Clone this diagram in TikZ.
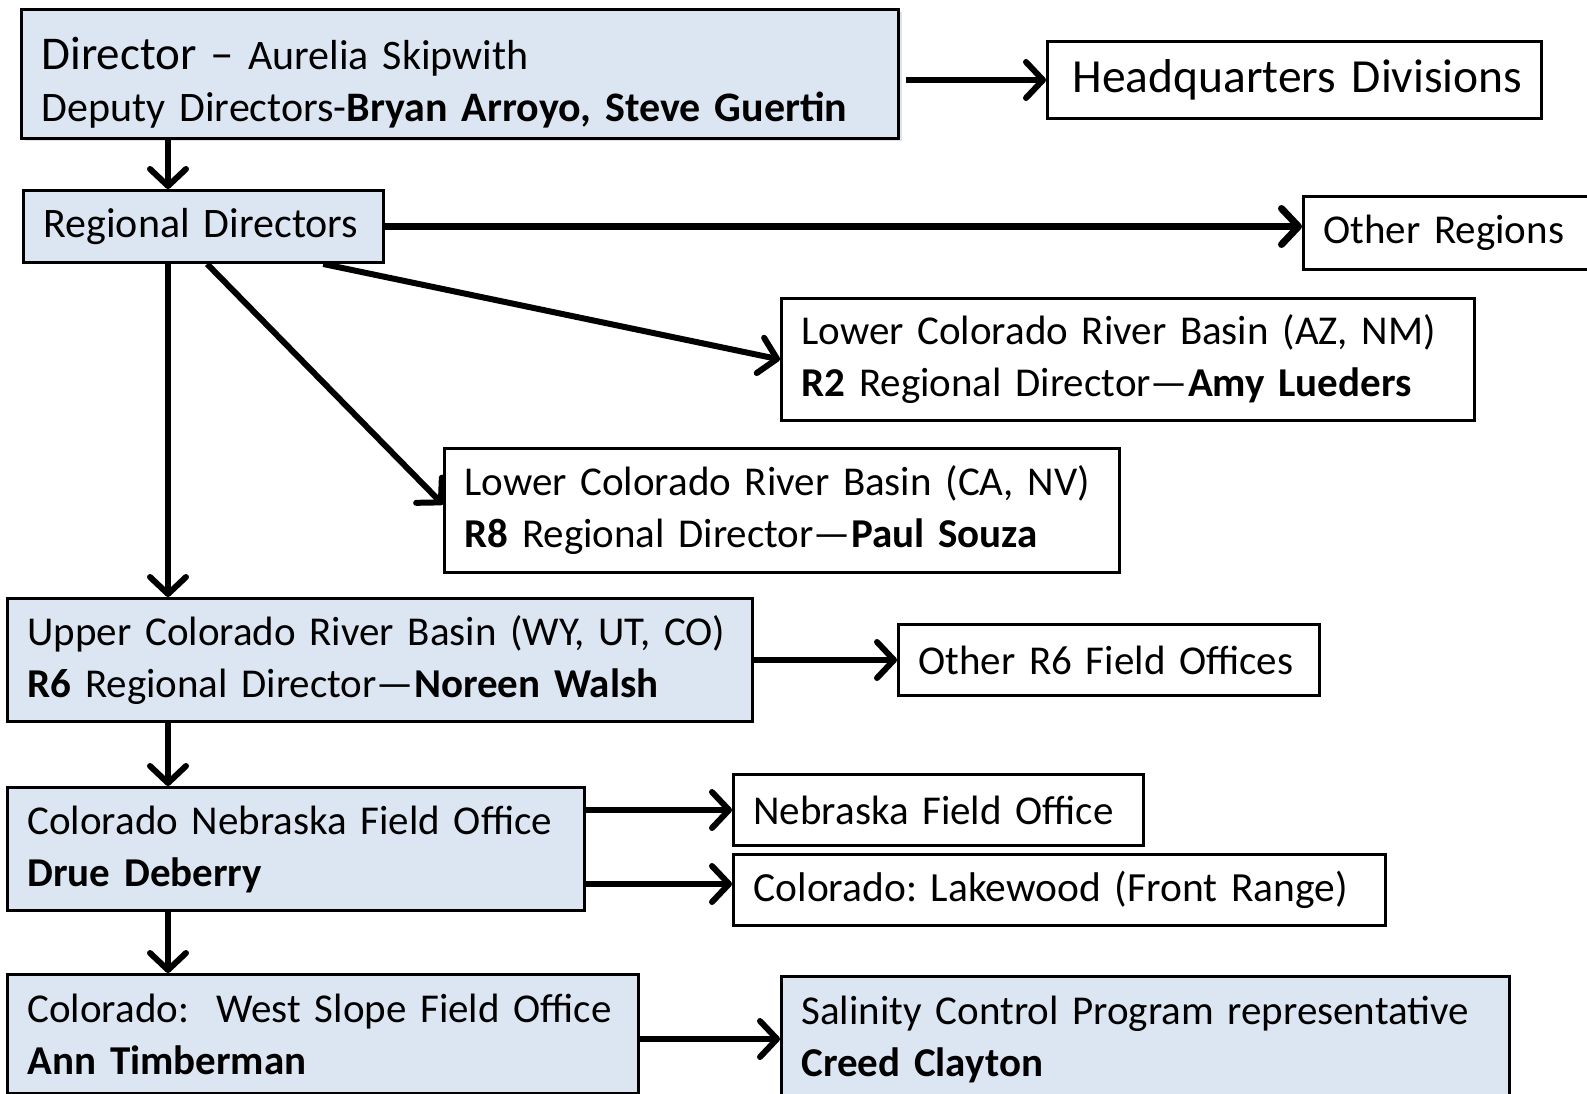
\documentclass[tikz,border=0pt]{standalone}
\usepackage{fontspec}
\setmainfont{Carlito}
\usetikzlibrary{arrows.meta,calc,shadows}
\definecolor{boxblue}{HTML}{DCE6F2}
\frenchspacing
\tikzset{
 box/.style={draw=black, line width=3pt, rectangle, inner xsep=20pt, inner ysep=0pt, align=left, anchor=north west, font=\fontsize{41}{52}\selectfont},
 bluebox/.style={box, fill=boxblue},
 whitebox/.style={box, fill=white},
 arr/.style={line width=6pt, -{Straight Barb[length=17pt,width=36pt,round]}},
}
\begin{document}
\begin{tikzpicture}[x=1pt,y=-1pt]
\useasboundingbox (0,0) rectangle (1587,1094);
\node[bluebox, text width=837pt, minimum height=129pt, font=\fontsize{42}{52}\selectfont, drop shadow={shadow xshift=3pt, shadow yshift=-3pt, fill=boxblue!80!gray, opacity=0.6}] (dir) at (20,8)
 {\mbox{\rule{0pt}{50pt}{\fontsize{47}{52}\selectfont Director –} Aurelia Skipwith}\\\mbox{Deputy Directors-\textbf{Bryan Arroyo, Steve Guertin}}};
\node[whitebox, text width=444pt, inner xsep=25pt, minimum height=77pt, font=\fontsize{47.5}{52}\selectfont] (hq) at (1046,40) {\mbox{Headquarters Divisions}};
\node[bluebox, text width=320pt, minimum height=72pt, font=\fontsize{42}{52}\selectfont] (reg) at (22,189) {\mbox{Regional Directors}};
\node[whitebox, text width=255pt, minimum height=73pt] (oreg) at (1302,195) {\mbox{Other Regions}};
\node[whitebox, text width=653pt, minimum height=122pt] (lcaz) at (780,297) {\mbox{Lower Colorado River Basin (AZ, NM)}\\\mbox{\textbf{R2} Regional Director—\textbf{Amy Lueders}}};
\node[whitebox, text width=635pt, minimum height=124pt] (lcca) at (443,447) {\mbox{Lower Colorado River Basin (CA, NV)}\\\mbox{\textbf{R8} Regional Director—\textbf{Paul Souza}}};
\node[bluebox, text width=705pt, minimum height=123pt] (ucrb) at (6,597) {\mbox{Upper Colorado River Basin (WY, UT, CO)}\\\mbox{\textbf{R6} Regional Director—\textbf{Noreen Walsh}}};
\node[whitebox, text width=381pt, minimum height=71pt] (or6) at (897,623) {\mbox{Other R6 Field Offices}};
\node[bluebox, text width=537pt, minimum height=123pt] (cnfo) at (6,786) {\mbox{Colorado Nebraska Field Office}\\\mbox{\textbf{Drue Deberry}}};
\node[whitebox, text width=370pt, minimum height=71pt] (nfo) at (732,773) {\mbox{Nebraska Field Office}};
\node[whitebox, text width=612pt, minimum height=71pt, font=\fontsize{41.5}{52}\selectfont] (lk) at (732,853) {\mbox{Colorado: Lakewood (Front Range)}};
\node[bluebox, text width=591pt, minimum height=119pt] (ws) at (6,973) {\mbox{Colorado:\ \ West Slope Field Office}\\\mbox{\textbf{Ann Timberman}}};
\node[bluebox, text width=688pt, minimum height=125pt] (sal) at (780,975) {\mbox{Salinity Control Program representative}\\\mbox{\textbf{Creed Clayton}}};
\coordinate (spine) at (168,0);
\draw[arr, shorten <=6pt] (dir.east |- hq.west) -- (hq.west);
\draw[arr] (spine |- dir.south) -- (spine |- reg.north);
\draw[arr, line width=7pt] (reg.east) -- (oreg.west |- reg.east);
\draw[arr] ($(reg.south west)!0.83!(reg.south east)$) -- (lcaz.west);
\draw[arr] ($(reg.south west)!0.51!(reg.south east)$) -- ([yshift=6pt]lcca.west);
\draw[arr] (spine |- reg.south) -- (spine |- ucrb.north);
\draw[arr] (ucrb.east |- or6.west) -- (or6.west);
\draw[arr] (spine |- ucrb.south) -- (spine |- cnfo.north);
\draw[arr] (cnfo.east |- nfo.west) -- (nfo.west);
\draw[arr] ([yshift=6pt]cnfo.east |- lk.west) -- ([yshift=6pt]lk.west);
\draw[arr] (spine |- cnfo.south) -- (spine |- ws.north);
\draw[arr] (ws.east |- sal.west) -- (sal.west);
\end{tikzpicture}
\end{document}
